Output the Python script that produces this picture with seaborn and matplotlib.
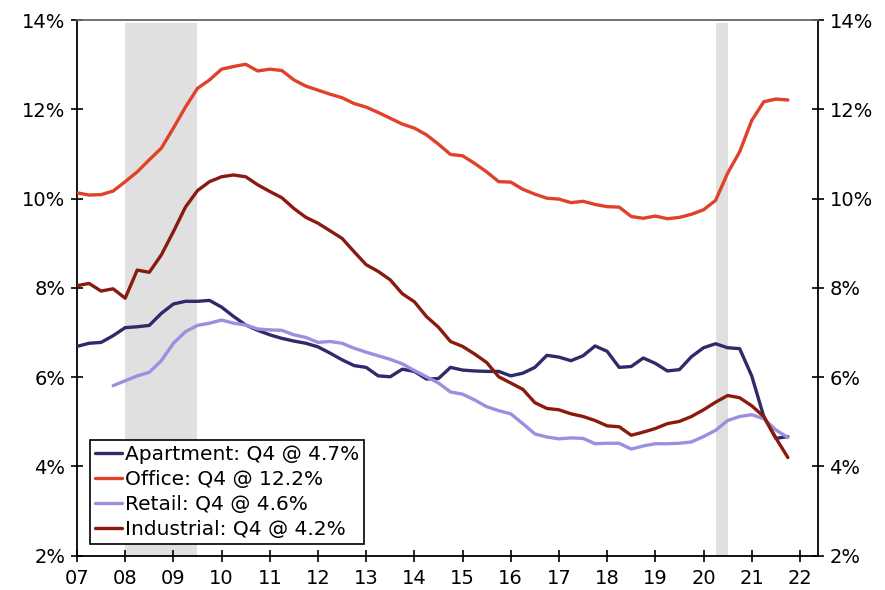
import numpy as np
import pandas as pd
import matplotlib
matplotlib.use("Agg")
import matplotlib.pyplot as plt
import seaborn as sns

# Quarterly, 2007Q1 .. 2021Q4
quarters = [2007 + i * 0.25 for i in range(60)]

apartment = [6.69, 6.76, 6.78, 6.93, 7.11, 7.13, 7.16, 7.43, 7.64, 7.70, 7.70, 7.72,
             7.57, 7.36, 7.17, 7.05, 6.95, 6.87, 6.81, 6.76, 6.68, 6.54, 6.39, 6.26,
             6.22, 6.03, 6.01, 6.18, 6.13, 5.96, 5.97, 6.22, 6.16, 6.14, 6.13, 6.13,
             6.03, 6.09, 6.22, 6.49, 6.45, 6.37, 6.48, 6.70, 6.58, 6.22, 6.24, 6.43,
             6.31, 6.14, 6.17, 6.46, 6.66, 6.75, 6.66, 6.64, 6.03, 5.12, 4.63, 4.67]

office = [10.13, 10.08, 10.09, 10.17, 10.38, 10.60, 10.87, 11.13, 11.58, 12.05, 12.47, 12.66,
          12.90, 12.96, 13.01, 12.86, 12.90, 12.87, 12.66, 12.52, 12.43, 12.34, 12.26, 12.13,
          12.05, 11.93, 11.80, 11.67, 11.58, 11.43, 11.22, 10.99, 10.96, 10.79, 10.60, 10.38,
          10.37, 10.21, 10.10, 10.01, 9.99, 9.91, 9.94, 9.87, 9.82, 9.81, 9.60, 9.56,
          9.61, 9.55, 9.58, 9.65, 9.75, 9.96, 10.57, 11.05, 11.75, 12.17, 12.23, 12.21]

retail = [np.nan, np.nan, np.nan, 5.81, 5.92, 6.03, 6.11, 6.37, 6.76, 7.02, 7.16, 7.21,
          7.28, 7.21, 7.17, 7.08, 7.06, 7.05, 6.95, 6.89, 6.78, 6.80, 6.76, 6.65,
          6.56, 6.48, 6.40, 6.30, 6.15, 6.01, 5.87, 5.67, 5.62, 5.49, 5.34, 5.25,
          5.18, 4.96, 4.73, 4.66, 4.62, 4.64, 4.63, 4.51, 4.52, 4.52, 4.39, 4.46,
          4.51, 4.51, 4.52, 4.55, 4.67, 4.81, 5.03, 5.12, 5.16, 5.07, 4.82, 4.65]

industrial = [8.05, 8.10, 7.93, 7.98, 7.77, 8.40, 8.35, 8.74, 9.26, 9.81, 10.18, 10.38,
              10.49, 10.53, 10.49, 10.31, 10.16, 10.02, 9.78, 9.58, 9.45, 9.28, 9.11, 8.81,
              8.52, 8.37, 8.18, 7.87, 7.69, 7.36, 7.12, 6.80, 6.69, 6.52, 6.33, 6.01,
              5.87, 5.73, 5.43, 5.30, 5.27, 5.18, 5.12, 5.03, 4.91, 4.89, 4.70, 4.77,
              4.85, 4.96, 5.01, 5.12, 5.27, 5.44, 5.59, 5.54, 5.36, 5.12, 4.64, 4.20]

series_labels = ["Apartment: Q4 @ 4.7%", "Office: Q4 @ 12.2%",
                 "Retail: Q4 @ 4.6%", "Industrial: Q4 @ 4.2%"]
series_colors = ["#2f2a6b", "#e0412a", "#9d8fe0", "#8b1a0e"]

recessions = [(2008.0, 2009.5), (2020.25, 2020.5)]

x_ticks = list(range(2007, 2023))
x_tick_labels = [f"{y % 100:02d}" for y in x_ticks]
y_ticks = [2, 4, 6, 8, 10, 12, 14]
y_tick_labels = [f"{v}%" for v in y_ticks]

frames = []
for lab, vals in zip(series_labels, [apartment, office, retail, industrial]):
    frames.append(pd.DataFrame({"date": quarters, "value": vals, "series": lab}))
df = pd.concat(frames).dropna()

sns.set_theme(style="white")
plt.rcParams["font.family"] = ["DejaVu Sans"]
plt.rcParams["text.color"] = "black"

fig = plt.figure(figsize=(8.85, 5.9), dpi=100)
ax = fig.add_axes([0.087, 0.058, 0.837, 0.908])

for a, b in recessions:
    ax.axvspan(a, b, ymax=0.995, color="#e0e0e0", lw=0, zorder=0)

sns.lineplot(data=df, x="date", y="value", hue="series",
             hue_order=series_labels, palette=series_colors,
             linewidth=2.4, ax=ax, legend=True, zorder=3)

ax.set_xlim(2007, 2022.37)
ax.set_ylim(2, 14)
ax.set_xticks(x_ticks)
ax.set_xticklabels(x_tick_labels)
ax.set_yticks(y_ticks)
ax.set_yticklabels(y_tick_labels)
ax.set_xlabel("")
ax.set_ylabel("")

ax.tick_params(axis="both", which="both", direction="inout", length=9, width=1.2,
               color="black", labelsize=14, labelcolor="black")
ax.tick_params(axis="y", left=True, right=True, labelleft=True, labelright=True, pad=4)
ax.tick_params(axis="x", bottom=True, pad=5)

for side in ["left", "right", "bottom"]:
    ax.spines[side].set_color("black")
    ax.spines[side].set_linewidth(1.3)
ax.spines["top"].set_color("#666666")
ax.spines["top"].set_linewidth(1.3)

leg = ax.legend(loc="lower left", bbox_to_anchor=(0.018, 0.022), fontsize=14.5,
                frameon=True, fancybox=False, edgecolor="black", framealpha=1,
                handlelength=1.3, handletextpad=0.15, borderpad=0.25,
                labelspacing=0.3, borderaxespad=0, labelcolor="black")
leg.get_frame().set_linewidth(1.2)
for line in leg.get_lines():
    line.set_linewidth(2.4)

fig.savefig("out.png", dpi=100)
